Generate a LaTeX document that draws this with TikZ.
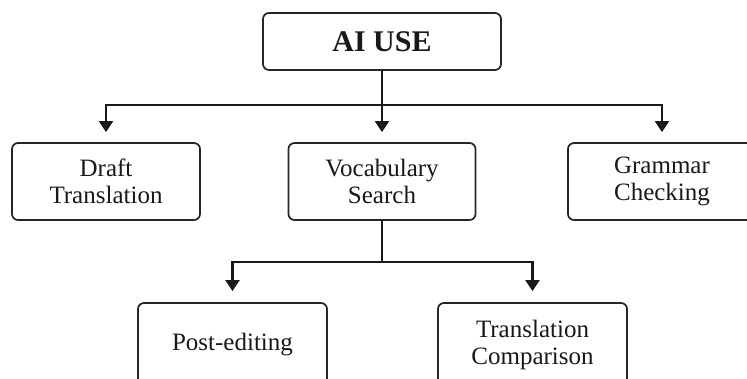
\documentclass[tikz,border=0pt]{standalone}
\usepackage{fontspec}
\setmainfont{Liberation Serif}
\usetikzlibrary{arrows.meta}
\begin{document}
\begin{tikzpicture}[x=1pt,y=-1pt,
  box/.style={draw=black!85, line width=1.7pt, rounded corners=6pt, fill=white,
    align=center, inner sep=0pt, font=\fontsize{25}{27}\selectfont, text=black!90},
  arr/.style={draw=black!90, line width=2.2pt, -{Triangle[width=14pt,length=11pt]}},
  ln/.style={draw=black!90, line width=2.2pt}]
\clip (0,0) rectangle (747,378);
\fill[white] (0,0) rectangle (747,378);
\node[box, minimum width=238pt, minimum height=57pt, font=\bfseries\fontsize{30}{32}\selectfont] (ai) at (382,41.5) {AI USE};
\node[box, minimum width=188pt, minimum height=77pt] (draft) at (106,181.5) {Draft\\Translation};
\node[box, minimum width=187pt, minimum height=77pt] (vocab) at (382,181.5) {Vocabulary\\Search};
\node[box, minimum width=188pt, minimum height=77pt] (gram) at (662,181.5) {Grammar\\Checking};
\node[box, minimum width=189pt, minimum height=83pt] (post) at (232.5,344.5) {Post-editing};
\node[box, minimum width=189pt, minimum height=83pt] (comp) at (532.5,344.5) {Translation\\Comparison};
\coordinate (hub) at (382,105);
\coordinate (hub2) at (382,262);
\draw[ln] (ai.south) -- (hub);
\draw[arr, shorten >=10pt] (hub) -| (draft.north);
\draw[arr, shorten >=10pt] (hub) -- (vocab.north);
\draw[arr, shorten >=10pt] (hub) -| (gram.north);
\draw[ln] (vocab.south) -- (hub2);
\draw[arr, shorten >=11pt] (hub2) -| (post.north);
\draw[arr, shorten >=11pt] (hub2) -| (comp.north);
\end{tikzpicture}
\end{document}
